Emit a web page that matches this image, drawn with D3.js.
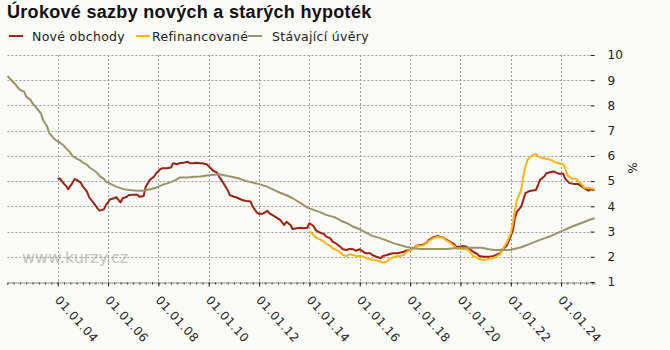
<!DOCTYPE html>
<html>
<head>
<meta charset="utf-8">
<script src="https://cdn.jsdelivr.net/npm/d3@7"></script>
<style>
  html, body { margin: 0; padding: 0; background: #fafaf6; }
  svg { display: block; }
  text { font-family: "DejaVu Sans", Verdana, sans-serif; fill: #222; }
</style>
</head>
<body>
<svg id="chart"></svg>
<script>
// Nové obchody (new business)
var noveDates = ['2004-01','2004-02','2004-04','2004-05','2004-06','2004-08','2004-09','2004-10','2004-12',
  '2005-01','2005-03','2005-04','2005-06','2005-08','2005-09','2005-11','2005-12',
  '2006-02','2006-04','2006-05','2006-07','2006-08','2006-10','2006-11',
  '2007-01','2007-03','2007-04','2007-06','2007-07','2007-09','2007-11','2007-12',
  '2008-02','2008-03','2008-05','2008-07','2008-08','2008-10','2008-11',
  '2009-01','2009-03','2009-04','2009-06','2009-07','2009-09','2009-10','2009-12',
  '2010-02','2010-03','2010-05','2010-06','2010-08','2010-10','2010-11',
  '2011-01','2011-02','2011-04','2011-05','2011-07','2011-09','2011-10','2011-12',
  '2012-01','2012-03','2012-05','2012-06','2012-08','2012-09','2012-11',
  '2013-01','2013-02','2013-04','2013-05','2013-07','2013-09','2013-10','2013-12',
  '2014-01','2014-03','2014-04','2014-06','2014-08','2014-09','2014-11','2014-12',
  '2015-02','2015-04','2015-05','2015-07','2015-08','2015-10','2015-11',
  '2016-01','2016-03','2016-04','2016-06','2016-07','2016-09','2016-11','2016-12',
  '2017-02','2017-03','2017-05','2017-07','2017-08','2017-10','2017-11',
  '2018-01','2018-03','2018-04','2018-06','2018-07','2018-09','2018-10','2018-12',
  '2019-02','2019-03','2019-05','2019-06','2019-08','2019-10','2019-11',
  '2020-01','2020-02','2020-04','2020-06','2020-07','2020-09','2020-10','2020-12',
  '2021-02','2021-03','2021-05','2021-06','2021-08','2021-09','2021-11','2021-12',
  '2022-02','2022-03','2022-04','2022-06','2022-07','2022-08','2022-10',
  '2023-01','2023-02','2023-03','2023-05','2023-06','2023-09','2023-10','2023-12',
  '2024-02','2024-03','2024-05','2024-07','2024-09','2024-12',
  '2025-02','2025-03','2025-05'];
var noveValues = [5.08,5.11,4.89,4.81,4.68,4.92,5.08,5.05,4.94,
  4.78,4.58,4.36,4.15,3.92,3.83,3.88,4.05,
  4.28,4.32,4.36,4.16,4.32,4.38,4.45,
  4.46,4.46,4.38,4.41,4.78,5.05,5.18,5.31,
  5.48,5.51,5.51,5.54,5.71,5.67,5.71,
  5.73,5.77,5.71,5.71,5.73,5.71,5.71,5.67,
  5.51,5.42,5.34,5.18,4.92,4.65,4.45,
  4.38,4.36,4.29,4.25,4.21,4.19,3.99,3.75,
  3.70,3.72,3.82,3.72,3.62,3.57,3.46,
  3.26,3.39,3.26,3.10,3.13,3.15,3.13,3.15,
  3.33,3.22,3.06,2.96,2.90,2.80,2.73,2.60,
  2.51,2.38,2.30,2.27,2.31,2.30,2.24,
  2.30,2.18,2.14,2.14,2.07,2.00,1.94,2.03,
  2.07,2.10,2.14,2.14,2.16,2.20,2.24,
  2.27,2.34,2.44,2.47,2.47,2.56,2.67,2.77,
  2.83,2.80,2.76,2.69,2.60,2.50,2.40,
  2.40,2.43,2.40,2.27,2.20,2.11,2.03,2.00,
  2.00,2.00,2.03,2.07,2.14,2.30,2.43,2.60,
  3.06,3.53,3.79,3.99,4.25,4.52,4.61,
  4.65,4.85,5.05,5.18,5.31,5.38,5.37,5.29,
  5.29,5.09,4.92,4.89,4.89,4.72,
  4.62,4.68,4.65];

// Refinancované (refinanced)
var refiDates = ['2014-01','2014-03','2014-04','2014-06','2014-08','2014-09','2014-11','2014-12',
  '2015-02','2015-04','2015-05','2015-07','2015-08','2015-10','2015-11',
  '2016-01','2016-03','2016-04','2016-06','2016-07','2016-09','2016-11','2016-12',
  '2017-02','2017-03','2017-05','2017-07','2017-08','2017-10','2017-11',
  '2018-01','2018-03','2018-04','2018-06','2018-07','2018-09','2018-10','2018-12',
  '2019-02','2019-03','2019-05','2019-06','2019-08','2019-10','2019-11',
  '2020-01','2020-02','2020-04','2020-06','2020-07','2020-09','2020-10','2020-12',
  '2021-02','2021-03','2021-05','2021-08','2021-09','2021-11',
  '2022-01','2022-02','2022-03','2022-04','2022-05','2022-06','2022-07','2022-08','2022-09','2022-11',
  '2023-01','2023-02','2023-04','2023-05','2023-07','2023-09','2023-10','2023-12',
  '2024-02','2024-03','2024-04','2024-06','2024-08','2024-09','2024-11','2024-12',
  '2025-03','2025-05'];
var refiValues = [3.00,2.87,2.76,2.69,2.60,2.51,2.43,2.34,
  2.27,2.16,2.07,2.03,2.10,2.07,2.03,
  2.03,2.00,1.94,1.90,1.87,1.85,1.81,1.77,
  1.81,1.90,1.98,2.03,2.03,2.06,2.17,
  2.27,2.31,2.44,2.44,2.44,2.54,2.63,2.73,
  2.80,2.77,2.76,2.67,2.56,2.43,2.34,
  2.31,2.31,2.30,2.16,2.03,1.96,1.91,1.87,
  1.90,1.92,1.96,2.10,2.30,2.54,
  2.93,3.33,3.86,4.25,4.45,4.65,5.18,5.58,5.84,6.01,
  6.08,5.97,5.91,5.91,5.87,5.81,5.75,5.71,
  5.67,5.51,5.25,5.09,5.09,5.02,4.85,4.74,
  4.72,4.69];

// Stávající úvěry (existing loans)
var stavDates = ['2002-01','2002-03','2002-05','2002-07','2002-09','2002-10','2002-12',
  '2003-01','2003-03','2003-05','2003-06','2003-08','2003-09','2003-11',
  '2004-01','2004-02','2004-04','2004-05','2004-07','2004-08','2004-10','2004-12',
  '2005-01','2005-03','2005-04','2005-06','2005-08','2005-09','2005-11','2005-12',
  '2006-05','2006-08','2006-11','2007-03','2007-06','2007-09','2007-12',
  '2008-03','2008-07','2008-10','2008-11','2009-03','2009-06','2009-09','2009-12',
  '2010-06','2010-09','2011-01','2011-04','2011-07','2011-10',
  '2012-01','2012-05','2012-08','2012-11','2013-02','2013-05','2013-09','2013-12',
  '2014-03','2014-06','2014-09','2015-01','2015-04','2015-07','2015-10',
  '2016-01','2016-04','2016-07','2016-11','2017-02','2017-05','2017-08','2017-11',
  '2018-03','2018-06','2018-12','2019-07','2019-10','2020-01','2020-05','2020-11',
  '2021-02','2021-05','2021-12','2022-01','2022-06','2022-11',
  '2023-03','2023-08','2024-01','2024-06','2024-11','2025-03','2025-05'];
var stavValues = [9.17,9.00,8.82,8.62,8.55,8.35,8.22,
  8.09,7.89,7.69,7.43,7.16,6.90,6.70,
  6.57,6.53,6.40,6.31,6.13,6.00,5.89,5.81,
  5.73,5.65,5.55,5.44,5.31,5.20,5.09,4.98,
  4.78,4.69,4.65,4.62,4.62,4.68,4.74,
  4.85,4.96,5.08,5.14,5.14,5.17,5.18,5.22,
  5.27,5.22,5.15,5.09,5.00,4.94,
  4.88,4.78,4.65,4.54,4.44,4.32,4.12,3.95,
  3.86,3.77,3.66,3.57,3.43,3.33,3.19,
  3.09,2.96,2.83,2.73,2.64,2.54,2.47,2.40,
  2.34,2.31,2.31,2.31,2.34,2.36,2.36,2.36,
  2.31,2.27,2.27,2.28,2.38,2.54,
  2.67,2.82,3.01,3.19,3.35,3.48,3.53];

var seriesNames = ['Nové obchody', 'Refinancované', 'Stávající úvěry'];
var seriesColors = ['#9e2214', '#fdb515', '#9c9466'];
var yTickValues = [1, 2, 3, 4, 5, 6, 7, 8, 9, 10];
var xTickYears = [2004, 2006, 2008, 2010, 2012, 2014, 2016, 2018, 2020, 2022, 2024];

var width = 670, height = 350;
var plot = { left: 7.4, right: 594.6, top: 55, bottom: 282 };

var parseMonth = d3.timeParse('%Y-%m');
function toPoints(dates, values) {
  return dates.map(function(d, i) { return { date: parseMonth(d), value: values[i] }; });
}
var series = [
  toPoints(noveDates, noveValues),
  toPoints(refiDates, refiValues),
  toPoints(stavDates, stavValues)
];

var svg = d3.select('#chart').attr('width', width).attr('height', height);

var x = d3.scaleTime()
  .domain([parseMonth('2002-01'), parseMonth('2025-05')])
  .range([plot.left, plot.right]);
var y = d3.scaleLinear().domain([1, 10]).range([plot.bottom, plot.top]);

/* title */
svg.append('text')
  .attr('x', 7).attr('y', 18)
  .style('font-family', '"Liberation Sans", Arial, sans-serif')
  .style('font-weight', 'bold')
  .style('font-size', '18px')
  .style('letter-spacing', '0.3px')
  .style('fill', '#111')
  .text('Úrokové sazby nových a starých hypoték');

/* legend */
var legendMarkX = [9, 136, 248];
var legendTextX = [32, 152, 272];
var legend = svg.append('g').attr('class', 'legend');
seriesNames.forEach(function(name, i) {
  legend.append('line')
    .attr('x1', legendMarkX[i]).attr('x2', legendMarkX[i] + 14)
    .attr('y1', 36).attr('y2', 36)
    .attr('stroke', seriesColors[i]).attr('stroke-width', 2);
  legend.append('text')
    .attr('x', legendTextX[i]).attr('y', 41)
    .style('font-size', '12.5px')
    .style('letter-spacing', '0.3px')
    .text(name);
});

/* watermark */
svg.append('text')
  .attr('x', 22).attr('y', 263)
  .style('font-size', '16px')
  .style('fill', '#c4c4c0')
  .text('www.kurzy.cz');

/* grid */
var grid = svg.append('g').attr('class', 'grid')
  .attr('stroke', '#9a9a9a').attr('stroke-dasharray', '2,2');
grid.selectAll('.h')
  .data(yTickValues.filter(function(v) { return v > 1; }))
  .enter().append('line')
  .attr('x1', plot.left).attr('x2', plot.right)
  .attr('y1', function(d) { return Math.round(y(d)) + 0.5; })
  .attr('y2', function(d) { return Math.round(y(d)) + 0.5; });
grid.selectAll('.v')
  .data(xTickYears)
  .enter().append('line')
  .attr('x1', function(d) { return Math.round(x(new Date(d, 0, 1))) + 0.5; })
  .attr('x2', function(d) { return Math.round(x(new Date(d, 0, 1))) + 0.5; })
  .attr('y1', plot.top).attr('y2', plot.bottom);

/* x axis: minor quarter ticks, then the labelled years */
var quarters = d3.timeMonth.every(3).range(x.domain()[0], x.domain()[1]);
svg.append('g')
  .attr('transform', 'translate(0,' + (Math.round(plot.bottom) + 0.5) + ')')
  .call(d3.axisBottom(x).tickValues(quarters).tickSize(2).tickFormat(''))
  .call(function(g) {
    g.select('.domain').attr('stroke', '#222').attr('stroke-dasharray', '1,1');
    g.selectAll('.tick line').attr('stroke', '#333');
  });

var xAxis = d3.axisBottom(x)
  .tickValues(xTickYears.map(function(yr) { return new Date(yr, 0, 1); }))
  .tickSize(4)
  .tickFormat(d3.timeFormat('%d.%m.%y'));
svg.append('g')
  .attr('transform', 'translate(0,' + (Math.round(plot.bottom) + 0.5) + ')')
  .call(xAxis)
  .call(function(g) {
    g.select('.domain').remove();
    g.selectAll('.tick line').attr('stroke', '#222');
    g.selectAll('.tick text')
      .attr('y', 0).attr('dy', 0)
      .attr('transform', 'translate(-4,18) rotate(48)')
      .style('text-anchor', 'start')
      .style('font-size', '12px')
      .style('letter-spacing', '0.5px')
      .style('fill', '#222');
  });

/* y axis on the right */
var yAxis = d3.axisRight(y).tickValues(yTickValues).tickSize(-4).tickPadding(13);
svg.append('g')
  .attr('transform', 'translate(' + plot.right + ',0)')
  .call(yAxis)
  .call(function(g) {
    g.select('.domain').remove();
    g.selectAll('.tick line').attr('stroke', '#222');
    g.selectAll('.tick text')
      .style('font-size', '12px')
      .style('font-family', '"DejaVu Sans", Verdana, sans-serif')
      .style('fill', '#222');
  });

svg.append('text')
  .attr('transform', 'translate(628,168) rotate(90)')
  .style('text-anchor', 'middle')
  .style('font-size', '12px')
  .text('%');

/* lines */
var line = d3.line()
  .x(function(d) { return x(d.date); })
  .y(function(d) { return y(d.value); });

svg.append('g').selectAll('path')
  .data(series)
  .enter().append('path')
  .attr('d', line)
  .attr('fill', 'none')
  .attr('stroke', function(d, i) { return seriesColors[i]; })
  .attr('stroke-width', 2)
  .attr('stroke-linejoin', 'round');
</script>
</body>
</html>
